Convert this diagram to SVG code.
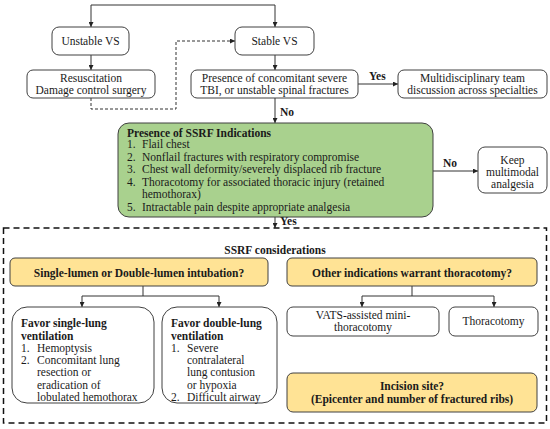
<svg xmlns="http://www.w3.org/2000/svg" width="550" height="429" viewBox="0 0 550 429">
<defs>
<marker id="ah" viewBox="0 0 6 6" refX="6" refY="3" markerWidth="5" markerHeight="5" orient="auto" markerUnits="userSpaceOnUse">
<path d="M0,0 L6,3 L0,6 z" fill="#222"/>
</marker>
<style>
text{font-family:"Liberation Serif","Times New Roman",serif;font-size:11.5px;fill:#1a1a1a}
.b{font-weight:bold}
.c{text-anchor:middle}
.box{fill:#fff;stroke:#404040;stroke-width:1}
.green{fill:#a9d18e;stroke:#404040;stroke-width:1}
.yel{fill:#ffe395;stroke:#404040;stroke-width:1}
.ln{fill:none;stroke:#333;stroke-width:1}
.dash{fill:none;stroke:#333;stroke-width:1;stroke-dasharray:3,2}
.frame{fill:none;stroke:#111;stroke-width:1.5;stroke-dasharray:6,4}
</style>
</defs>
<rect width="550" height="429" fill="#fff"/>

<g id="connectors">
<path class="ln" d="M91,5 H275" />
<path class="ln" d="M91,5 V27" marker-end="url(#ah)"/>
<path class="ln" d="M275,5 V27" marker-end="url(#ah)"/>
<path class="ln" d="M91,55 V70" marker-end="url(#ah)"/>
<path class="ln" d="M275,55 V70" marker-end="url(#ah)"/>
<path class="dash" d="M91,98 V109 H176 V41 H235" marker-end="url(#ah)"/>
<path class="ln" d="M358,84 H398" marker-end="url(#ah)"/>
<path class="ln" d="M275,98 V123" marker-end="url(#ah)"/>
<path class="ln" d="M433,171 H478" marker-end="url(#ah)"/>
<path class="ln" d="M275,217 V228" marker-end="url(#ah)"/>
<path class="ln" d="M143,286 V296 M82,296 H219"/>
<path class="ln" d="M82,296 V307" marker-end="url(#ah)"/>
<path class="ln" d="M219,296 V307" marker-end="url(#ah)"/>
<path class="ln" d="M412,286 V296 M362,296 H494"/>
<path class="ln" d="M362,296 V307" marker-end="url(#ah)"/>
<path class="ln" d="M494,296 V307" marker-end="url(#ah)"/>
<text class="b" x="369" y="80">Yes</text>
<text class="b" x="280" y="116">No</text>
<text class="b" x="443" y="167">No</text>
<text class="b" x="280" y="225">Yes</text>
</g>

<g id="unstable">
<rect class="box" x="52" y="27" width="77" height="28" rx="7"/>
<text class="c" x="90.5" y="45">Unstable VS</text>
</g>
<g id="stable">
<rect class="box" x="235" y="27" width="79" height="28" rx="7"/>
<text class="c" x="274.5" y="45">Stable VS</text>
</g>
<g id="resus">
<rect class="box" x="27" y="70" width="128" height="28" rx="6"/>
<text class="c" x="91" y="82">Resuscitation</text>
<text class="c" x="91" y="94">Damage control surgery</text>
</g>
<g id="presence">
<rect class="box" x="191" y="70" width="167" height="28" rx="6"/>
<text class="c" x="274.5" y="82">Presence of concomitant severe</text>
<text class="c" x="274.5" y="94">TBI, or unstable spinal fractures</text>
</g>
<g id="mdt">
<rect class="box" x="398" y="70" width="149" height="28" rx="6"/>
<text class="c" x="472.5" y="82">Multidisciplinary team</text>
<text class="c" x="472.5" y="94">discussion across specialties</text>
</g>

<g id="ssrf">
<rect class="green" x="118" y="123" width="315" height="94" rx="11"/>
<text class="b" x="127" y="137">Presence of SSRF Indications</text>
<text x="127" y="148">1.</text><text x="142" y="148">Flail chest</text>
<text x="127" y="161">2.</text><text x="142" y="161">Nonflail fractures with respiratory compromise</text>
<text x="127" y="173">3.</text><text x="142" y="173">Chest wall deformity/severely displaced rib fracture</text>
<text x="127" y="186">4.</text><text x="142" y="186">Thoracotomy for associated thoracic injury (retained</text>
<text x="142" y="198">hemothorax)</text>
<text x="127" y="211">5.</text><text x="142" y="211">Intractable pain despite appropriate analgesia</text>
</g>

<g id="keep">
<rect class="box" x="478" y="147" width="69" height="46" rx="7"/>
<text class="c" x="512.5" y="164">Keep</text>
<text class="c" x="512.5" y="176">multimodal</text>
<text class="c" x="512.5" y="188">analgesia</text>
</g>

<g id="considerations">
<rect class="frame" x="3.5" y="228" width="543" height="195"/>
<text class="b c" x="275" y="254">SSRF considerations</text>
</g>

<g id="intubation">
<rect class="yel" x="10" y="258" width="258" height="28" rx="5"/>
<text class="b c" x="139" y="277">Single-lumen or Double-lumen intubation?</text>
</g>
<g id="thoracotomy-q">
<rect class="yel" x="287" y="258" width="250" height="28" rx="5"/>
<text class="b c" x="412" y="277">Other indications warrant thoracotomy?</text>
</g>

<g id="single">
<rect class="box" x="12" y="307" width="142" height="96" rx="15"/>
<text class="b" x="21" y="327">Favor single-lung</text>
<text class="b" x="21" y="340">ventilation</text>
<text x="21" y="352">1.</text><text x="37" y="352">Hemoptysis</text>
<text x="21" y="364">2.</text><text x="37" y="364">Concomitant lung</text>
<text x="37" y="376">resection or</text>
<text x="37" y="389">eradication of</text>
<text x="37" y="401">lobulated hemothorax</text>
</g>
<g id="double">
<rect class="box" x="162" y="307" width="115" height="96" rx="15"/>
<text class="b" x="171" y="327">Favor double-lung</text>
<text class="b" x="171" y="340">ventilation</text>
<text x="171" y="352">1.</text><text x="187" y="352">Severe</text>
<text x="187" y="364">contralateral</text>
<text x="187" y="376">lung contusion</text>
<text x="187" y="389">or hypoxia</text>
<text x="171" y="401">2.</text><text x="187" y="401">Difficult airway</text>
</g>

<g id="vats">
<rect class="box" x="287" y="307" width="152" height="29" rx="6"/>
<text class="c" x="363" y="319">VATS-assisted mini-</text>
<text class="c" x="363" y="331">thoracotomy</text>
</g>
<g id="thoracotomy">
<rect class="box" x="449" y="307" width="89" height="29" rx="6"/>
<text class="c" x="493.5" y="325">Thoracotomy</text>
</g>
<g id="incision">
<rect class="yel" x="287" y="373" width="250" height="39" rx="6"/>
<text class="b c" x="412" y="390">Incision site?</text>
<text class="b c" x="412" y="403">(Epicenter and number of fractured ribs)</text>
</g>
</svg>
